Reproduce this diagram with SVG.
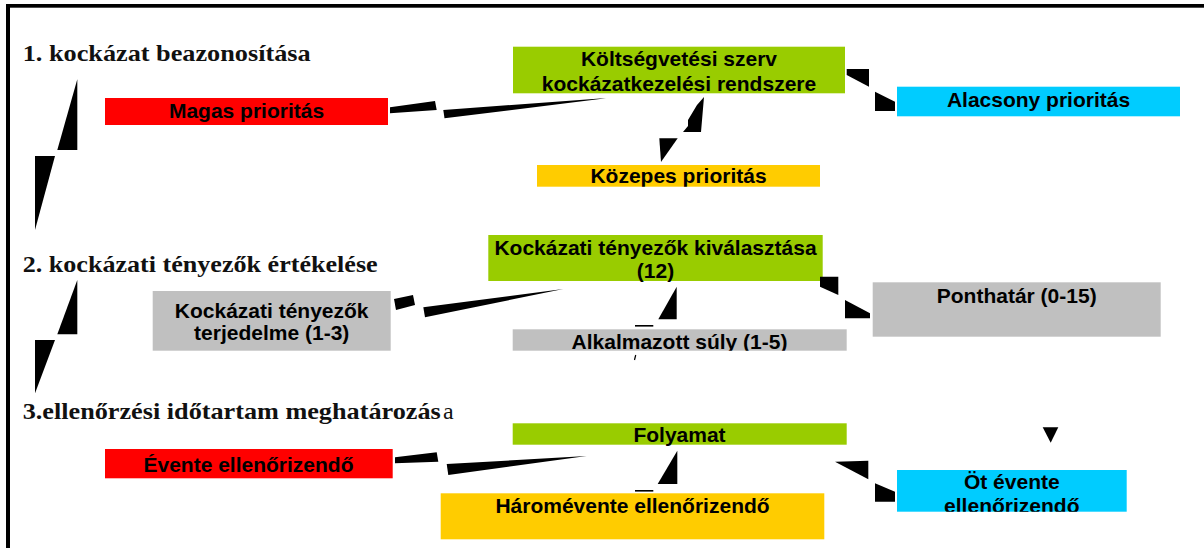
<svg xmlns="http://www.w3.org/2000/svg" width="1204" height="548" viewBox="0 0 1204 548">
<style>
.t{font-family:"Liberation Sans",Arial,sans-serif;font-weight:bold;font-size:21px;fill:#000;text-anchor:middle}
.h{font-family:"Liberation Serif","Times New Roman",serif;font-weight:bold;font-size:24px;fill:#111}
.hr{font-family:"Liberation Serif","Times New Roman",serif;font-weight:normal;font-size:24px;fill:#111}
.red{fill:#FF0000}.grn{fill:#99CC00}.cyn{fill:#00CCFF}.yel{fill:#FFCC00}.gry{fill:#C0C0C0}
.c{fill:#000}
</style>
<defs>
<clipPath id="cpKoz"><rect x="537" y="165" width="283" height="21.7"/></clipPath>
<clipPath id="cpAlk"><rect x="513" y="329.3" width="334" height="21.4"/></clipPath>
<clipPath id="cpOt"><rect x="897" y="470" width="230" height="41.7"/></clipPath>
</defs>
<rect width="1204" height="548" fill="#fff"/>
<g id="frame">
<rect x="6" y="4" width="1198" height="3.7" fill="#000"/>
<rect x="6" y="4" width="4" height="544" fill="#000"/>
</g>
<g id="heading1"><text class="h" x="22.7" y="61" textLength="288" lengthAdjust="spacingAndGlyphs">1. kockázat beazonosítása</text></g>
<g id="heading2"><text class="h" x="22.7" y="271.7" textLength="355" lengthAdjust="spacingAndGlyphs">2. kockázati tényezők értékelése</text></g>
<g id="heading3"><text class="h" x="22.7" y="419" textLength="418" lengthAdjust="spacingAndGlyphs">3.ellenőrzési időtartam meghatározás</text><text class="hr" x="443" y="419">a</text></g>

<g id="magas"><rect class="red" x="105" y="98" width="283" height="27"/><text class="t" x="246.5" y="117.5">Magas prioritás</text></g>
<g id="koltsegvetesi"><rect class="grn" x="513" y="46.7" width="332" height="46.6"/><text class="t" x="679" y="65.7">Költségvetési szerv</text><text class="t" x="679" y="90.5">kockázatkezelési rendszere</text></g>
<g id="alacsony"><rect class="cyn" x="897" y="86.7" width="283" height="29.6"/><text class="t" x="1038.5" y="106.7">Alacsony prioritás</text></g>
<g id="kozepes"><rect class="yel" x="537" y="165" width="283" height="21.7"/><text class="t" x="678.5" y="183" clip-path="url(#cpKoz)">Közepes prioritás</text></g>

<g id="kivalasztasa"><rect class="grn" x="488.3" y="235" width="334.4" height="46"/><text class="t" x="655.5" y="255">Kockázati tényezők kiválasztása</text><text class="t" x="655.5" y="278.3">(12)</text></g>
<g id="terjedelme"><rect class="gry" x="152.7" y="291" width="238" height="59.7"/><text class="t" x="271.7" y="318.3">Kockázati tényezők</text><text class="t" x="271.7" y="340">terjedelme (1-3)</text></g>
<g id="alkalmazott"><rect class="gry" x="512.7" y="329.3" width="334" height="21.4"/><text class="t" x="679.5" y="348.7" clip-path="url(#cpAlk)">Alkalmazott súly (1-5)</text></g>
<g id="ponthatar"><rect class="gry" x="872.7" y="282.3" width="288" height="54.4"/><text class="t" x="1016.7" y="303.3">Ponthatár (0-15)</text></g>

<g id="folyamat"><rect class="grn" x="512.7" y="423.3" width="334" height="21.4"/><text class="t" x="679.5" y="441.7">Folyamat</text></g>
<g id="evente"><rect class="red" x="105" y="449" width="287.7" height="29.3"/><text class="t" x="248.5" y="471.7">Évente ellenőrizendő</text></g>
<g id="haromevente"><rect class="yel" x="440.7" y="493.3" width="383.6" height="46"/><text class="t" x="632.5" y="513.3">Háromévente ellenőrizendő</text></g>
<g id="otevente"><rect class="cyn" x="897" y="470" width="229.7" height="41.7"/><g clip-path="url(#cpOt)"><text class="t" x="1011.8" y="489">Öt évente</text><text class="t" x="1011.8" y="513">ellenőrizendő</text></g></g>

<g id="connectors">
<polygon class="c" points="77.3,79.3 77.3,150 57.3,150"/>
<polygon class="c" points="35,156 55,156 35,230"/>
<polygon class="c" points="77.3,280 77.3,334.3 57.3,334.3"/>
<polygon class="c" points="35,340 55,340 35,393.3"/>

<polygon class="c" points="390,107.3 435,101 436.7,110 390,113.3"/>
<polygon class="c" points="443.3,110 600,98.5 606,98.3 444.5,118.3"/>
<polygon class="c" points="704,97 701,132 683,132 688,126 688,120 697,105"/>
<polygon class="c" points="659.3,138.3 677.7,138.3 661,162"/>
<polygon class="c" points="846.7,69 869,69 869,86.7 846.7,75"/>
<polygon class="c" points="875,91.7 895,101.7 895,111 875,111"/>

<polygon class="c" points="394,299 413,295 415,305 396,310"/>
<polygon class="c" points="423.3,307.3 563.3,289 425,317.3"/>
<polygon class="c" points="676.7,286.7 676.7,319.3 658.3,319.3"/>
<rect class="c" x="635" y="325" width="18.3" height="1.6"/>
<line x1="635.7" y1="355" x2="634.5" y2="360" stroke="#000" stroke-width="1.2"/>
<polygon class="c" points="820,276.7 838.3,276.7 838.3,295 820,286.7"/>
<polygon class="c" points="845,300 870,313.3 870,318.3 845,318.3"/>

<polygon class="c" points="395,457.3 436.7,452.3 438.3,461.7 395,463.3"/>
<polygon class="c" points="446.7,464 586.7,456 448.3,475"/>
<polygon class="c" points="677.3,450.7 677.3,484 657.7,484"/>
<rect class="c" x="635" y="490" width="18.3" height="1.6"/>
<polygon class="c" points="835,461.7 868.3,460.7 868.3,479.3"/>
<polygon class="c" points="875,483.3 895,491.7 895,501.7 875,501.7"/>
<polygon class="c" points="1042.7,427.3 1058.3,427.3 1050.7,442.7"/>
</g>
</svg>
